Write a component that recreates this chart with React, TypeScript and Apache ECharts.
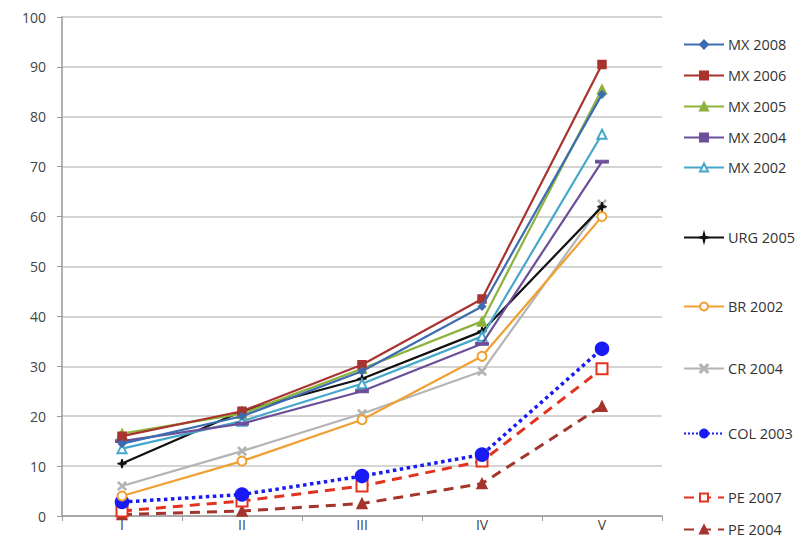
import React, { useEffect, useRef } from "react";
import * as echarts from "echarts";

const categories = ["I", "II", "III", "IV", "V"];

const seriesNames = [
  "MX 2008", "MX 2006", "MX 2005", "MX 2004", "MX 2002",
  "URG 2005", "BR 2002", "CR 2004", "COL 2003", "PE 2007", "PE 2004",
];

const mx2008 = [14.5, 20, 29, 42, 84.5];
const mx2006 = [16, 21, 30.3, 43.5, 90.5];
const mx2005 = [16.5, 20.5, 29.5, 39, 85.5];
const mx2004 = [15, 18.5, 25, 34.5, 71];
const mx2002 = [13.5, 19, 26.5, 36, 76.5];
const urg2005 = [10.5, 21, 27.5, 37, 62];
const br2002 = [4, 11, 19.3, 32, 60];
const cr2004 = [6, 13, 20.5, 29, 62.5];
const col2003 = [2.8, 4.3, 8, 12.3, 33.5];
const pe2007 = [1, 3, 6, 11, 29.5];
const pe2004 = [0.3, 1, 2.5, 6.5, 22];

const legendTops = [44, 75, 106, 137, 167, 237, 306, 368, 433, 497, 529];

export default function App() {
  const ref = useRef<HTMLDivElement>(null);
  useEffect(() => {
    if (!ref.current) return;
    const chart = echarts.init(ref.current, null, { renderer: "svg" });
    const dashPath = "path://M0,0H12V3H0Z";
    const starPath = "path://M5,0L6,4L10,5L6,6L5,10L4,6L0,5L4,4Z";
    const xPath = "path://M0,1L1,0L5,4L9,0L10,1L6,5L10,9L9,10L5,6L1,10L0,9L4,5Z";
    const defs: any[] = [
      { data: mx2008, color: "#3d6db0", symbol: "diamond", size: 7 },
      { data: mx2006, color: "#a8332f", symbol: "rect", size: 8 },
      { data: mx2005, color: "#8db33c", symbol: "triangle", size: 9 },
      { data: mx2004, color: "#6b4f99", symbol: dashPath, size: [11, 3] },
      { data: mx2002, color: "#45a7cc", symbol: "emptyTriangle", size: 9 },
      { data: urg2005, color: "#111111", symbol: starPath, size: 9 },
      { data: br2002, color: "#f0a032", symbol: "emptyCircle", size: 9 },
      { data: cr2004, color: "#b4b4b4", symbol: xPath, size: 8 },
      { data: col2003, color: "#1a1af5", symbol: "circle", size: 13, type: "dotted", width: 3.5 },
      { data: pe2007, color: "#e3321f", symbol: "emptyRect", size: 11, type: [10, 7], width: 3 },
      { data: pe2004, color: "#a3352c", symbol: "triangle", size: 10, type: [10, 7], width: 3 },
    ];
    const series = defs.map((d, i) => ({
      name: seriesNames[i],
      type: "line",
      data: d.data,
      symbol: d.symbol,
      symbolSize: d.size,
      showAllSymbol: true,
      color: d.color,
      itemStyle: { color: d.color, borderColor: d.color, borderWidth: 1.5 },
      lineStyle: { color: d.color, width: d.width || 2.2, type: d.type || "solid" },
      z: 20 - i,
    }));
    const legends = seriesNames.map((n, i) => ({
      data: [n],
      left: 675,
      top: legendTops[i] - 8 - 7,
      padding: 0,
      orient: "vertical",
      itemWidth: 40,
      itemHeight: 10,
      itemGap: 0,
      textStyle: { fontFamily: "Open Sans", fontSize: 14.5, color: "#333", padding: [0, 0, 0, -1] },
    }));
    chart.setOption({
      animation: false,
      backgroundColor: "#fff",
      grid: { left: 54, right: 139, top: 9, bottom: 34, containLabel: false },
      legend: legends,
      xAxis: {
        type: "category",
        data: categories,
        boundaryGap: true,
        axisLine: { lineStyle: { color: "#999", width: 1.5 } },
        axisTick: { show: true, alignWithLabel: false, length: 5, lineStyle: { color: "#999" } },
        axisLabel: { fontFamily: "Open Sans", fontSize: 14, color: "#444", margin: 1 },
      },
      yAxis: {
        type: "value",
        min: 0,
        max: 100,
        interval: 10,
        axisLine: { show: true, lineStyle: { color: "#999", width: 1.5 } },
        axisTick: { show: true, length: 5, lineStyle: { color: "#999" } },
        axisLabel: { fontFamily: "Open Sans", fontSize: 14, color: "#444", margin: 16 },
        splitLine: { lineStyle: { color: "#c6c6c6", width: 1.5 } },
      },
      series,
    });
    return () => chart.dispose();
  }, []);
  return <div ref={ref} style={{ width: 793, height: 542 }} />;
}
